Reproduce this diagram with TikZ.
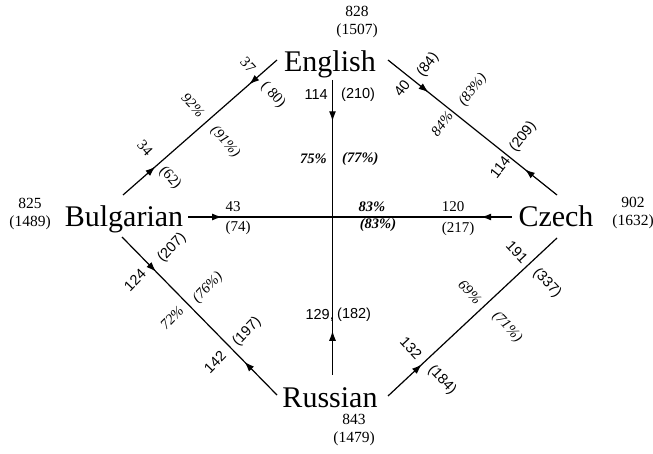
\documentclass[tikz,border=0pt]{standalone}
\usepackage{fontspec}
\setmainfont{Liberation Serif}
\setsansfont{Liberation Sans}
\usetikzlibrary{arrows.meta,decorations.markings}
\begin{document}
\begin{tikzpicture}[x=1pt,y=-1pt,
  lang/.style={font=\fontsize{30}{30}\selectfont, inner sep=0pt, anchor=base},
  cnt/.style={font=\fontsize{15.5}{18}\selectfont, inner sep=0pt, align=center},
  lbl/.style={font=\fontsize{15}{15}\selectfont, inner sep=0pt},
  slbl/.style={font=\sffamily\fontsize{14.5}{15}\selectfont, inner sep=0pt},
  pct/.style={font=\itshape\fontsize{14.5}{15}\selectfont, inner sep=0pt},
  bpct/.style={font=\bfseries\itshape\fontsize{14.5}{15}\selectfont, inner sep=0pt},
  link/.style={line width=1.2pt},
  twoarr/.style n args={2}{postaction={decorate}, decoration={markings,
      mark=at position #1 with {\arrow{Latex[length=10pt,width=7pt]}},
      mark=at position #2 with {\arrowreversed{Latex[length=10pt,width=7pt]}}}},
  onearr/.style={postaction={decorate}, decoration={markings,
      mark=at position #1 with {\arrow{Latex[length=10pt,width=7pt]}}}}
]
\useasboundingbox (0,0) rectangle (653,454);

% language nodes
\node[lang] (eng) at (330,72) {English};
\node[lang] (bul) at (124,227) {Bulgarian};
\node[lang] (cze) at (556,227) {Czech};
\node[lang] (rus) at (330,407) {Russian};

% counts
\node[cnt] (engc) at (357,22) {828\\(1507)};
\node[cnt] (bulc) at (30,214) {825\\(1489)};
\node[cnt] (czec) at (633,213) {902\\(1632)};
\node[cnt] (rusc) at (354,430) {843\\(1479)};

% connectors
\draw[link, twoarr={0.21}{0.82}] ([shift={(-1,-32)}]bul.base) -- ([shift={(-53,-12)}]eng.base);
\draw[link, twoarr={0.24}{0.81}] ([shift={(58,-12)}]eng.base) -- ([shift={(1,-32)}]cze.base);
\draw[link, twoarr={0.105}{0.905}] ([shift={(64,-10)}]bul.base) -- ([shift={(-44,-10)}]cze.base);
\draw[link, twoarr={0.14}{0.85}] ([shift={(2.5,8)}]eng.base) -- ([shift={(2.5,-32)}]rus.base);
\draw[link, twoarr={0.22}{0.79}] ([shift={(-2,10)}]bul.base) -- ([shift={(-53,-12)}]rus.base);
\draw[link, onearr={0.2}] ([shift={(58,-11)}]rus.base) -- ([shift={(1,11)}]cze.base);

% Bulgarian-English labels
\node[lbl, rotate=-48] (l1) at (248,65) {37};
\node[lbl, rotate=-48] (l2) at (273,95) {( 80)};
\node[pct, rotate=-48] (l3) at (193,105) {92\%};
\node[pct, rotate=-48] (l4) at (225,142) {(91\%)};
\node[lbl, rotate=-48] (l5) at (145,148) {34};
\node[lbl, rotate=-48] (l6) at (170,178) {(62)};

% English-Czech labels
\node[slbl, rotate=52] (l7) at (402,88) {40};
\node[slbl, rotate=52] (l8) at (428,65) {(84)};
\node[pct, rotate=52] (l9) at (442,124) {84\%};
\node[pct, rotate=52] (l10) at (473,90) {(83\%)};
\node[slbl, rotate=52] (l11) at (500,167) {114};
\node[slbl, rotate=52] (l12) at (523,137) {(209)};

% Bulgarian-Czech labels
\node[lbl] (l13) at (233,207) {43};
\node[lbl] (l14) at (238,228) {(74)};
\node[bpct] (l15) at (372,207) {83\%};
\node[bpct] (l16) at (378,225) {(83\%)};
\node[lbl] (l17) at (453,207) {120};
\node[lbl] (l18) at (458,229) {(217)};

% English-Russian labels
\node[slbl, anchor=east] (l19) at (328,95) {114};
\node[slbl, anchor=west] (l20) at (341,95) {(210)};
\node[bpct, anchor=east] (l21) at (327,159) {75\%};
\node[bpct, anchor=west] (l22) at (342,159) {(77\%)};
\node[slbl, anchor=east] (l23) at (334,315) {129,};
\node[slbl, anchor=west] (l23b) at (337,315) {(182)};

% Bulgarian-Russian labels
\node[slbl, rotate=46] (l24) at (135,280) {124};
\node[slbl, rotate=46] (l25) at (172,248) {(207)};
\node[pct, rotate=46] (l26) at (172,318) {72\%};
\node[pct, rotate=46] (l27) at (208,288) {(76\%)};
\node[slbl, rotate=46] (l28) at (215,362) {142};
\node[slbl, rotate=46] (l29) at (247,332) {(197)};

% Russian-Czech labels
\node[slbl, rotate=-47] (l30) at (517,252) {191};
\node[slbl, rotate=-47] (l31) at (547,283) {(337)};
\node[pct, rotate=-47] (l32) at (470,292) {69\%};
\node[pct, rotate=-47] (l33) at (507,327) {(71\%)};
\node[slbl, rotate=-47] (l34) at (411,348) {132};
\node[slbl, rotate=-47] (l35) at (442,380) {(184)};
\end{tikzpicture}
\end{document}
